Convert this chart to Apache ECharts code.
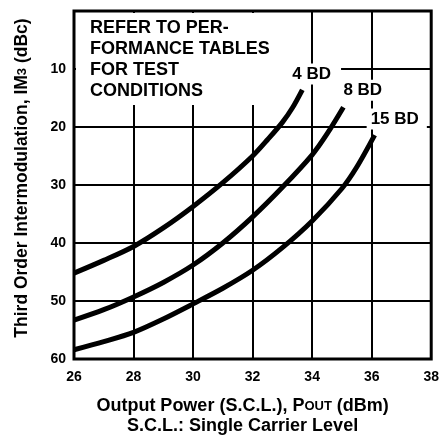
<!DOCTYPE html>
<html>
<head>
<meta charset="UTF-8">
<title>IM3 vs Output Power</title>
<style>
  html, body { margin: 0; padding: 0; background: #fff; }
  #chart { width: 442px; height: 441px; }
</style>
<script src="https://cdn.jsdelivr.net/npm/echarts@6/dist/echarts.min.js"></script>
</head>
<body>
<div id="chart"></div>
<script>
  // values: [Pout dBm, IM3 dBc]
  var bd4 = [[26, 45.2], [27, 43.0], [28, 40.6], [29, 37.4], [30, 33.7], [31, 29.6], [32, 25.0], [32.5, 22.2], [33, 19.2], [33.35, 16.6], [33.67, 13.6]];
  var bd8 = [[26, 53.3], [27, 51.5], [28, 49.3], [29, 46.8], [30, 43.8], [31, 40.0], [32, 35.5], [33, 30.4], [34, 24.8], [34.5, 21.2], [35.05, 16.6]];
  var bd15 = [[26, 58.4], [27, 57.0], [28, 55.4], [29, 53.1], [30, 50.5], [31, 47.8], [32, 44.7], [33, 40.8], [34, 36.2], [35, 30.6], [35.5, 26.9], [36.1, 21.4]];
  var seriesNames = ['4 BD', '8 BD', '15 BD'];
  var noteLines = ['REFER TO PER-', 'FORMANCE TABLES', 'FOR TEST', 'CONDITIONS'];

  var chart = echarts.init(document.getElementById('chart'));
  var font = 'Liberation Sans, Arial, Helvetica, sans-serif';

  function curve(name, data, offset, pad) {
    return {
      name: name,
      type: 'line',
      data: data,
      smooth: 0.3,
      showSymbol: false,
      silent: true,
      lineStyle: { color: '#000', width: 5 },
      endLabel: {
        show: true,
        formatter: name,
        offset: offset,
        color: '#000',
        fontFamily: font,
        fontWeight: 'bold',
        fontSize: 17,
        backgroundColor: '#fff',
        padding: pad
      },
      z: 3
    };
  }

  var option = {
    backgroundColor: '#fff',
    animation: false,
    grid: { left: 74, right: 7, top: 11, bottom: 82, show: true, borderColor: '#000', borderWidth: 3 },
    xAxis: {
      type: 'value', min: 26, max: 38, interval: 2,
      name: 'Output Power (S.C.L.), P{s|OUT} (dBm)\nS.C.L.: Single Carrier Level',
      nameLocation: 'middle', nameGap: 37,
      nameTextStyle: {
        color: '#000', fontFamily: font, fontSize: 18, fontWeight: 'bold', lineHeight: 20, padding: [0, 20, 0, 0],
        rich: { s: { fontSize: 13, fontWeight: 'bold', fontFamily: font, color: '#000' } }
      },
      axisLine: { show: false },
      axisTick: { show: false },
      axisLabel: { color: '#000', fontFamily: font, fontWeight: 'bold', fontSize: 14, margin: 11 },
      splitLine: { show: true, lineStyle: { color: '#000', width: 2 } }
    },
    yAxis: {
      type: 'value', min: 0, max: 60, interval: 10, inverse: true,
      name: 'Third Order Intermodulation, IM{s|3} (dBc)',
      nameLocation: 'middle', nameGap: 43, nameRotate: 90,
      nameTextStyle: {
        color: '#000', fontFamily: font, fontSize: 17.5, fontWeight: 'bold', padding: [0, 0, 0, 14],
        rich: { s: { fontSize: 13, fontWeight: 'bold', fontFamily: font, color: '#000' } }
      },
      axisLine: { show: false },
      axisTick: { show: false },
      axisLabel: {
        color: '#000', fontFamily: font, fontWeight: 'bold', fontSize: 14, margin: 8,
        formatter: function (v) { return v === 0 ? '' : v; }
      },
      splitLine: { show: true, lineStyle: { color: '#000', width: 2 } }
    },
    graphic: [
      { type: 'rect', z: 50, shape: { x: 76, y: 13, width: 214, height: 92 }, style: { fill: '#fff' } },
      {
        type: 'text', z: 51, left: 90, top: 18,
        style: { text: noteLines.join('\n'), fill: '#000', font: 'bold 18px ' + font, lineHeight: 21 }
      }
    ],
    series: [
      curve(seriesNames[0], bd4, [-22, -16], [2, 10, 2, 4]),
      curve(seriesNames[1], bd8, [-12, -17], [2, 6, 2, 4]),
      curve(seriesNames[2], bd15, [-16, -16], [2, 8, 2, 4])
    ]
  };
  chart.setOption(option);
</script>
</body>
</html>
